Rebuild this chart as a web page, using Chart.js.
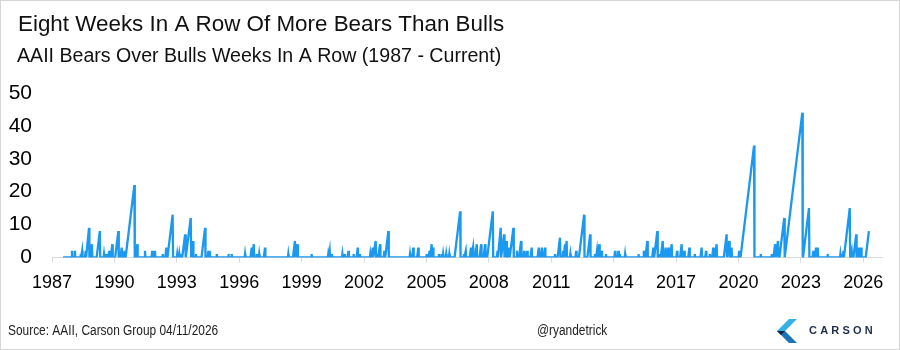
<!DOCTYPE html>
<html>
<head>
<meta charset="utf-8">
<script src="https://cdn.jsdelivr.net/npm/chart.js@4.4.1/dist/chart.umd.min.js"></script>
<style>
  html, body { margin: 0; padding: 0; background: #fff; }
  #wrap { position: relative; width: 900px; height: 350px; }
</style>
</head>
<body>
<div id="wrap"><canvas id="chart" width="900" height="350"></canvas></div>
<script>
// AAII: weeks in a row with more bears than bulls
// each streak = week it ended (decimal year) + how many weeks it lasted
const surveyStart = 1987.53;
const streakEnd = [
  1987.96, 1988.10, 1988.38, 1988.45, 1988.62, 1988.78, 1988.92, 1989.30, 1989.50, 1989.62,
  1989.75, 1989.90, 1990.19, 1990.35, 1990.48, 1990.96, 1991.10, 1991.47, 1991.82, 1991.95,
  1992.32, 1992.50, 1992.80, 1993.02, 1993.12, 1993.24, 1993.40, 1993.67, 1993.78, 1993.92,
  1994.36, 1994.52, 1994.58, 1994.92, 1995.48, 1995.64, 1996.28, 1996.60, 1996.70, 1996.84,
  1996.96, 1997.24, 1998.36, 1998.68, 1998.80, 1999.48, 2000.28, 2000.35, 2000.45, 2000.96,
  2001.08, 2001.25, 2001.50, 2001.70, 2001.80, 2002.30, 2002.42, 2002.56, 2002.66, 2002.77,
  2002.98, 2003.17, 2004.21, 2004.37, 2004.61, 2005.01, 2005.15, 2005.25, 2005.32, 2005.60,
  2005.72, 2005.80, 2005.95, 2006.10, 2006.62, 2006.80, 2006.89, 2007.14, 2007.24, 2007.42,
  2007.63, 2007.82, 2008.19, 2008.42, 2008.57, 2008.73, 2008.85, 2008.98, 2009.18, 2009.35,
  2009.55, 2009.70, 2009.85, 2010.06, 2010.40, 2010.55, 2010.70, 2011.18, 2011.42, 2011.58,
  2011.66, 2011.74, 2011.92, 2012.20, 2012.58, 2012.87, 2013.10, 2013.20, 2013.31, 2013.42,
  2013.63, 2014.07, 2014.23, 2014.30, 2014.55, 2015.19, 2015.45, 2015.62, 2015.91, 2016.10,
  2016.20, 2016.36, 2016.50, 2016.63, 2016.79, 2017.05, 2017.27, 2017.40, 2017.64, 2017.90,
  2018.23, 2018.44, 2018.62, 2018.79, 2018.95, 2019.43, 2019.56, 2019.67, 2020.04, 2020.75,
  2021.07, 2021.60, 2021.76, 2021.90, 2022.20, 2023.07, 2023.39, 2023.60, 2023.73, 2023.81,
  2024.28, 2024.90, 2025.05, 2025.35, 2025.44, 2025.66, 2025.77, 2025.90, 2026.27
];
const streakWeeks = [
  2, 2, 1, 2, 2, 9, 4, 8, 1, 1,
  2, 4, 8, 3, 2, 22, 4, 2, 2, 2,
  1, 3, 13, 1, 1, 1, 7, 12, 5, 1,
  9, 2, 2, 1, 1, 1, 1, 3, 4, 1,
  1, 3, 1, 5, 4, 1, 1, 2, 1, 1,
  1, 2, 1, 3, 1, 1, 3, 5, 1, 4,
  2, 8, 1, 3, 3, 1, 2, 4, 3, 1,
  1, 1, 1, 1, 14, 1, 2, 3, 3, 4,
  4, 4, 14, 2, 9, 7, 5, 3, 9, 2,
  5, 2, 2, 3, 3, 3, 3, 1, 6, 2,
  4, 5, 1, 2, 13, 7, 1, 2, 4, 2,
  1, 2, 2, 1, 1, 1, 2, 5, 3, 8,
  1, 5, 3, 3, 4, 2, 4, 2, 3, 1,
  3, 2, 1, 3, 4, 7, 5, 3, 2, 34,
  1, 1, 4, 5, 12, 44, 15, 2, 3, 3,
  1, 1, 2, 15, 2, 7, 3, 3, 8
];
const xTickYears = [1987, 1990, 1993, 1996, 1999, 2002, 2005, 2008, 2011, 2014, 2017, 2020, 2023, 2026];
const yTicks = [0, 10, 20, 30, 40, 50];

const titleText = 'Eight Weeks In A Row Of More Bears Than Bulls';
const subtitleText = 'AAII Bears Over Bulls Weeks In A Row (1987 - Current)';
const sourceText = 'Source: AAII, Carson Group 04/11/2026';
const handleText = '@ryandetrick';

const WEEK = 1 / 52.18;
const FONT = '"Liberation Sans", Arial, sans-serif';

// counter goes up one a week, falls back to 0 when the streak breaks
function buildPoints() {
  let pts = [{ x: surveyStart, y: 0 }];
  let lastX = surveyStart;
  for (let i = 0; i < streakEnd.length; i++) {
    const end = streakEnd[i];
    const n = streakWeeks[i];
    const start = Math.max(lastX, end - n * WEEK);
    pts.push({ x: start, y: 0 });
    pts.push({ x: end, y: n });
    if (i < streakEnd.length - 1) {
      lastX = end + WEEK;
      pts.push({ x: lastX, y: 0 });
    }
  }
  return pts;
}

function narrowText(ctx, txt, x, y, sx) {
  ctx.save();
  ctx.translate(x, y);
  ctx.scale(sx, 1);
  ctx.fillText(txt, 0, 0);
  ctx.restore();
}

const decorPlugin = {
  id: 'decor',
  afterDraw(chart) {
    const ctx = chart.ctx;
    ctx.save();
    ctx.textBaseline = 'alphabetic';
    ctx.textAlign = 'left';
    ctx.fillStyle = '#111';
    ctx.font = '22.4px ' + FONT;
    ctx.fillText(titleText, 18, 31);
    ctx.font = '19.6px ' + FONT;
    ctx.fillText(subtitleText, 17, 62);

    // footer
    ctx.fillStyle = '#222';
    ctx.font = '14px ' + FONT;
    narrowText(ctx, sourceText, 8, 335, 0.85);
    narrowText(ctx, handleText, 537, 335, 0.85);

    // carson logo
    ctx.fillStyle = '#35b1e6';
    ctx.beginPath();
    ctx.moveTo(789, 319); ctx.lineTo(797, 319); ctx.lineTo(785, 331); ctx.lineTo(777, 331);
    ctx.closePath(); ctx.fill();
    ctx.fillStyle = '#1c73b8';
    ctx.beginPath();
    ctx.moveTo(777, 331); ctx.lineTo(785, 331); ctx.lineTo(797, 343); ctx.lineTo(789, 343);
    ctx.closePath(); ctx.fill();
    ctx.fillStyle = '#0e2347';
    ctx.beginPath();
    ctx.moveTo(777, 331); ctx.lineTo(785, 331); ctx.lineTo(781, 335);
    ctx.closePath(); ctx.fill();

    ctx.fillStyle = '#1f2d4d';
    ctx.font = 'bold 11px ' + FONT;
    let x = 809;
    for (const ch of 'CARSON') {
      ctx.fillText(ch, x, 334);
      x += ctx.measureText(ch).width + 3.2;
    }

    // frame
    ctx.strokeStyle = '#d6d6d6';
    ctx.lineWidth = 1;
    ctx.strokeRect(0.5, 0.5, 899, 349);
    ctx.restore();
  }
};

new Chart(document.getElementById('chart'), {
  type: 'line',
  data: {
    datasets: [{
      data: buildPoints(),
      borderColor: '#1b98ef',
      borderWidth: 2.3,
      pointRadius: 0,
      tension: 0,
      fill: false
    }]
  },
  options: {
    responsive: false,
    animation: false,
    events: [],
    layout: { padding: { top: 93, left: 7, right: 18, bottom: 46 } },
    plugins: { legend: { display: false }, tooltip: { enabled: false } },
    scales: {
      x: {
        type: 'linear',
        min: 1987,
        max: 2026.9,
        afterBuildTicks: (axis) => { axis.ticks = xTickYears.map(v => ({ value: v })); },
        afterFit: (axis) => { axis.paddingLeft = 0; axis.paddingRight = 0; },
        ticks: {
          autoSkip: false,
          maxRotation: 0,
          color: '#000',
          font: { size: 18, family: FONT },
          padding: 10,
          callback: (v) => String(v)
        },
        grid: { display: true, drawOnChartArea: false, color: '#d9d9d9', tickLength: 5 },
        border: { color: '#d9d9d9' }
      },
      y: {
        min: 0,
        max: 50,
        afterBuildTicks: (axis) => { axis.ticks = yTicks.map(v => ({ value: v })); },
        afterFit: (axis) => { axis.width = 45; axis.paddingTop = 0; axis.paddingBottom = 0; },
        ticks: {
          color: '#000',
          font: { size: 21, family: FONT },
          padding: 12
        },
        grid: { display: false },
        border: { display: false }
      }
    }
  },
  plugins: [decorPlugin]
});
</script>
</body>
</html>
